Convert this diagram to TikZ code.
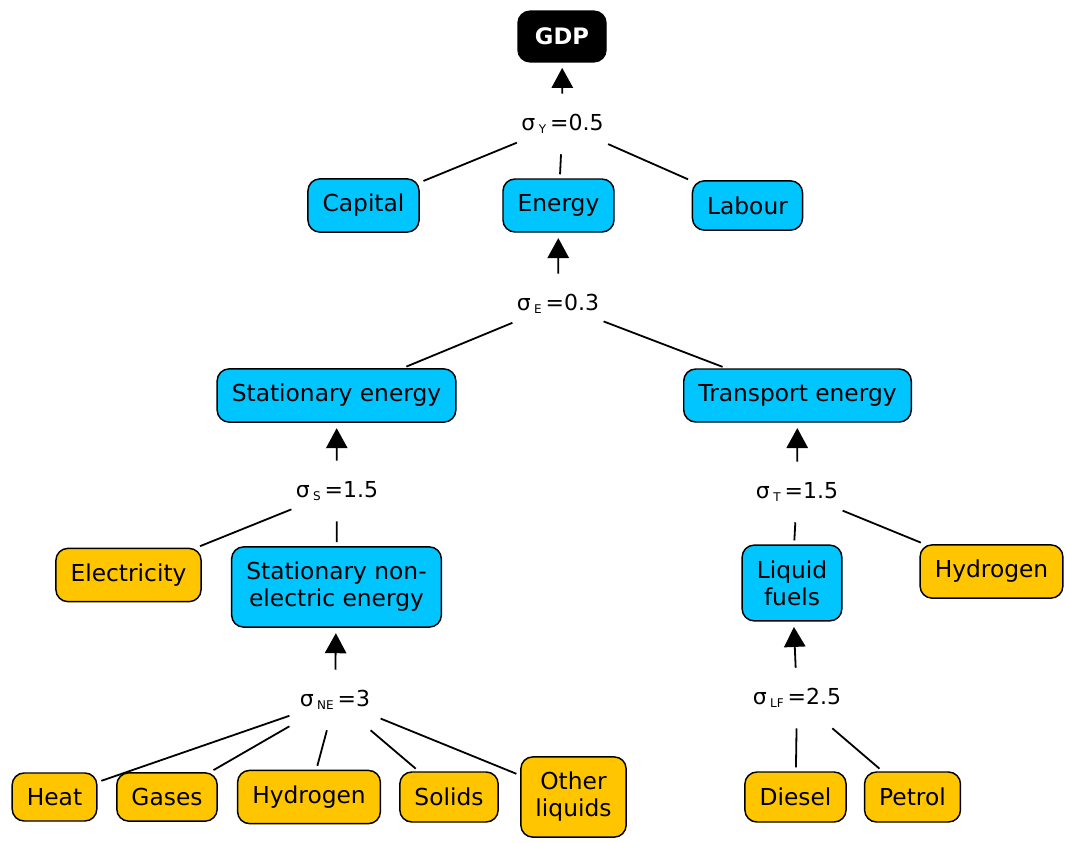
\documentclass[tikz,border=0pt]{standalone}
\usepackage{fontspec}
\setmainfont{DejaVu Sans}
\usetikzlibrary{arrows.meta}
\definecolor{nest}{HTML}{00C5FF}
\definecolor{fuel}{HTML}{FFC600}
\newcommand{\elast}[2]{σ\kern2.5pt\raisebox{-2.5pt}{\fontsize{9}{9}\selectfont #1}\kern3pt=#2}

\begin{document}
\begin{tikzpicture}[x=0.75pt,y=-0.75pt,
      every node/.style={font=\fontsize{17.5}{20.25}\selectfont},
      box/.style={draw,line width=1.1pt,rounded corners=9pt,inner xsep=11pt,inner ysep=11.5pt,minimum height=39.75pt,align=center},
      nestbox/.style={box,fill=nest},
      fuelbox/.style={box,fill=fuel},
      topbox/.style={box,fill=black,text=white,font=\fontsize{17}{19}\bfseries\selectfont,minimum width=66pt,minimum height=38pt},
      elas/.style={inner sep=0pt,minimum width=68pt,minimum height=45pt,font=\fontsize{16.5}{17}\selectfont},
      link/.style={line width=1.35pt,shorten >=3pt},
      feed/.style={-{Triangle[width=16pt,length=15pt]},line width=1.35pt,shorten >=4pt}]
    \useasboundingbox (0,0) rectangle (1065,843);
    % Top: output and first nest
    \node[topbox] (gdp) at (562,36.5) {GDP};
    \node[elas] (sY) at (562.5,124) {\elast{Y}{0.5}};
    \node[nestbox] (capital) at (363.5,205.5) {Capital};
    \node[nestbox] (energy) at (558.5,205.5) {Energy};
    \node[nestbox,minimum height=37pt] (labour) at (747.5,205.5) {Labour};
    % Energy split
    \node[elas] (sE) at (558,304) {\elast{E}{0.3}};
    \node[nestbox] (stat) at (336.5,395.5) {Stationary energy};
    \node[nestbox] (trans) at (797.5,395.5) {Transport energy};
    % Stationary and transport nests
    \node[elas] (sS) at (337,491) {\elast{S}{1.5}};
    \node[elas] (sT) at (797,492) {\elast{T}{1.5}};
    \node[fuelbox] (elec) at (128.5,575) {Electricity};
    \node[nestbox] (sne) at (336.5,587) {Stationary non-\\electric energy};
    \node[nestbox] (liq) at (792,583) {Liquid\\fuels};
    \node[fuelbox] (hydT) at (991.5,571.5) {Hydrogen};
    % Bottom row: fuels
    \node[elas] (sNE) at (335,700) {\elast{NE}{3}};
    \node[elas] (sLF) at (797,698) {\elast{LF}{2.5}};
    \node[fuelbox,minimum height=36pt] (heat) at (54.5,797) {Heat};
    \node[fuelbox,minimum height=36pt] (gases) at (167,797) {Gases};
    \node[fuelbox] (hydS) at (309,797) {Hydrogen};
    \node[fuelbox,minimum height=37.5pt] (solids) at (449,797) {Solids};
    \node[fuelbox] (oliq) at (573.5,797) {Other\\liquids};
    \node[fuelbox,minimum height=37.5pt] (diesel) at (795.5,797) {Diesel};
    \node[fuelbox,minimum height=37.5pt] (petrol) at (912.5,797) {Petrol};
    % nest -> aggregate
    \draw[feed] (sY) -- (gdp);
    \draw[feed] (sE) -- (energy);
    \draw[feed] (sS) -- (stat);
    \draw[feed] (sT) -- (trans);
    \draw[feed] (sNE) -- (sne);
    \draw[feed] (sLF) -- (liq);
    % inputs -> nest
    \draw[link] (sY) -- (capital);
    \draw[link] (sY) -- (energy);
    \draw[link] (sY) -- (labour);
    \draw[link] (sE) -- (stat);
    \draw[link] (sE) -- (trans);
    \draw[link] (sS) -- (elec);
    \draw[link] (sS) -- (sne);
    \draw[link] (sT) -- (liq);
    \draw[link] (sT) -- (hydT);
    \draw[link] (sNE) -- (heat);
    \draw[link] (sNE) -- (gases);
    \draw[link] (sNE) -- (hydS);
    \draw[link] (sNE) -- (solids);
    \draw[link] (sNE) -- (oliq);
    \draw[link] (sLF) -- (diesel);
    \draw[link] (sLF) -- (petrol);
  \end{tikzpicture}
\end{document}
